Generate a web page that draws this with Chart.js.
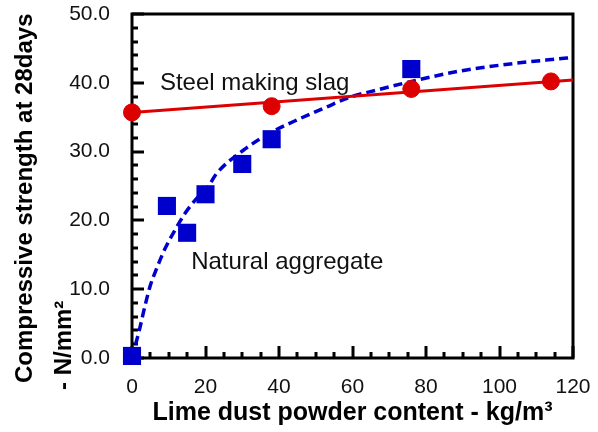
<!DOCTYPE html>
<html>
<head>
<meta charset="utf-8">
<script src="https://cdn.jsdelivr.net/npm/chart.js@4/dist/chart.umd.min.js"></script>
<style>
  html, body { margin: 0; padding: 0; background: #ffffff; }
  #wrap { width: 598px; height: 432px; position: relative; }
</style>
</head>
<body>
<div id="wrap"><canvas id="c" width="598" height="432"></canvas></div>
<script>
// ---- data ----
const slagX = [0, 38, 76, 114];
const slagStrength = [35.7, 36.6, 39.1, 40.2];

const naturalX = [0, 9.5, 15, 20, 30, 38, 76];
const naturalStrength = [0.3, 22.1, 18.2, 23.8, 28.2, 31.8, 42.0];

const slagFitX = [0, 120];
const slagFitY = [35.7, 40.4];

const naturalFitX = [0, 0.8, 2.2, 3.5, 4.9, 6.7, 9.0, 11.7, 14.4, 17.6, 20.8, 23, 30.3, 37.6, 45.7, 53, 59.3, 67, 78.4, 90.2, 103.8, 118.3, 120];
const naturalFitY = [0, 1.6, 4.5, 7.5, 10.4, 13.0, 15.9, 18.6, 21.0, 23.2, 25.0, 26.8, 30.2, 32.7, 34.8, 36.5, 37.9, 39.0, 40.5, 41.8, 42.8, 43.6, 43.7];

const xTitle = 'Lime dust powder content - kg/m\u00B3';
const yTitleLines = ['Compressive strength at 28days', '- N/mm\u00B2'];
const labelSlag = { text: 'Steel making slag', x: 7.6, y: 38.95 };
const labelNatural = { text: 'Natural aggregate', x: 16.1, y: 12.9 };

const toPts = (xs, ys) => xs.map((x, i) => ({ x: x, y: ys[i] }));

const RED = '#dd0000';
const BLUE = '#0000cc';
const FONT = '"Liberation Sans", Arial, Helvetica, sans-serif';

const framePlugin = {
  id: 'frame',
  beforeDatasetsDraw(chart) {
    const { ctx, chartArea: a, scales: { x, y } } = chart;
    ctx.save();
    ctx.strokeStyle = '#000';
    ctx.lineWidth = 3;
    ctx.lineCap = 'butt';
    ctx.beginPath();
    for (let v = 0; v <= 120; v += 5) {
      const px = Math.round(x.getPixelForValue(v));
      const len = (v % 20 === 0) ? 12 : 6;
      ctx.moveTo(px, a.bottom);
      ctx.lineTo(px, a.bottom - len);
    }
    for (let v = 0; v <= 50; v += 2) {
      const py = Math.round(y.getPixelForValue(v));
      const len = (v % 10 === 0) ? 12 : 6;
      ctx.moveTo(a.left, py);
      ctx.lineTo(a.left + len, py);
    }
    ctx.stroke();
    ctx.strokeRect(a.left, a.top, a.right - a.left, a.bottom - a.top);
    ctx.restore();
  },
  afterDraw(chart) {
    const { ctx, scales: { x, y } } = chart;
    ctx.save();
    ctx.fillStyle = '#111';
    ctx.font = '24px ' + FONT;
    ctx.textAlign = 'left';
    ctx.textBaseline = 'alphabetic';
    [labelSlag, labelNatural].forEach(l => {
      ctx.fillText(l.text, x.getPixelForValue(l.x), y.getPixelForValue(l.y));
    });
    ctx.font = 'bold 24px ' + FONT;
    ctx.fillStyle = '#000';
    const pos = [[32, 383], [71, 390]];
    yTitleLines.forEach((t, i) => {
      ctx.save();
      ctx.translate(pos[i][0], pos[i][1]);
      ctx.rotate(-Math.PI / 2);
      ctx.fillText(t, 0, 0);
      ctx.restore();
    });
    ctx.restore();
  }
};

new Chart(document.getElementById('c'), {
  type: 'scatter',
  data: {
    datasets: [
      {
        label: 'Steel making slag',
        data: toPts(slagX, slagStrength),
        showLine: false,
        pointStyle: 'circle',
        pointRadius: 8.5,
        pointBackgroundColor: RED,
        pointBorderColor: RED,
        pointBorderWidth: 1,
        clip: false
      },
      {
        label: 'Natural aggregate',
        data: toPts(naturalX, naturalStrength),
        showLine: false,
        pointStyle: 'rect',
        pointRadius: 12.8,
        pointBackgroundColor: BLUE,
        pointBorderColor: BLUE,
        pointBorderWidth: 0,
        clip: false
      },
      {
        label: 'Slag fit',
        data: toPts(slagFitX, slagFitY),
        showLine: true,
        borderColor: RED,
        borderWidth: 3,
        pointRadius: 0,
        fill: false
      },
      {
        label: 'Natural fit',
        data: toPts(naturalFitX, naturalFitY),
        showLine: true,
        borderColor: BLUE,
        borderWidth: 3.5,
        borderDash: [9, 5],
        cubicInterpolationMode: 'monotone',
        pointRadius: 0,
        fill: false
      }
    ]
  },
  options: {
    responsive: false,
    animation: false,
    devicePixelRatio: 1,
    layout: { padding: { left: 0, top: 14, right: 25, bottom: 0 } },
    plugins: { legend: { display: false }, tooltip: { enabled: false } },
    scales: {
      x: {
        type: 'linear',
        min: 0, max: 120,
        grid: { display: false },
        border: { display: false },
        ticks: { stepSize: 20, padding: 9, color: '#111', font: { family: FONT, size: 21 } },
        title: { display: true, text: xTitle, color: '#000', padding: { top: 0, bottom: 4 }, font: { family: FONT, size: 25, weight: 'bold' } },
        afterFit(s) { s.height = 74; s.paddingLeft = 0; s.paddingRight = 0; }
      },
      y: {
        type: 'linear',
        min: 0, max: 50,
        grid: { display: false },
        border: { display: false },
        ticks: { stepSize: 10, padding: 14, color: '#111', font: { family: FONT, size: 21 }, callback: v => Number(v).toFixed(1) },
        afterFit(s) { s.width = 132; s.paddingTop = 0; s.paddingBottom = 0; }
      }
    }
  },
  plugins: [framePlugin]
});
</script>
</body>
</html>
